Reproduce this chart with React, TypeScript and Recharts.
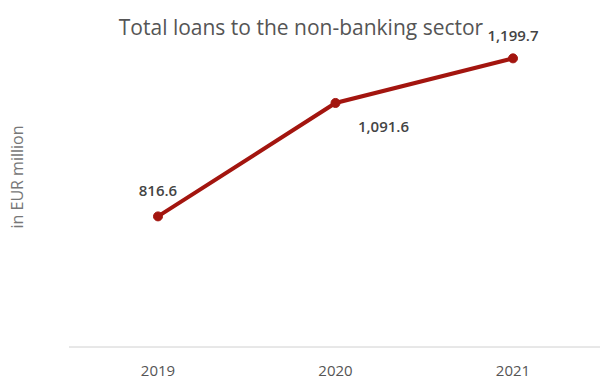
import React from "react";
import { LineChart, Line, XAxis, YAxis, LabelList } from "recharts";

const years = ["2019", "2020", "2021"];
const loans = [816.6, 1091.6, 1199.7];
const valueLabels = ["816.6", "1,091.6", "1,199.7"];

const data = years.map((y, i) => ({ year: y, value: loans[i], label: valueLabels[i] }));

const FONT = "'Open Sans', 'Noto Sans', sans-serif";
const RED = "#A3150F";

const labelOffsets = [
  { dx: 0, dy: -20 },
  { dx: 48, dy: 29 },
  { dx: 0, dy: -17 },
];

const renderLabel = (props: any) => {
  const { x, y, value, index } = props;
  const o = labelOffsets[index] || { dx: 0, dy: -16 };
  return (
    <text
      x={x + o.dx}
      y={y + o.dy}
      textAnchor="middle"
      fontFamily={FONT}
      fontSize={15}
      fontWeight={600}
      fill="#444"
    >
      {value}
    </text>
  );
};

export default function App() {
  return (
    <div style={{ position: "absolute", left: 0, top: 0, width: 600, height: 383, background: "#fff" }}>
      <LineChart
        width={600}
        height={383}
        data={data}
        margin={{ top: 17, right: -2, bottom: 0, left: 69 }}
      >
        <XAxis
          dataKey="year"
          height={36}
          padding={{ left: 89, right: 89 }}
          axisLine={{ stroke: "#d0d0d0", strokeWidth: 1 }}
          tickLine={false}
          tick={{ fontFamily: FONT, fontSize: 15, fill: "#555" }}
          tickMargin={12}
        />
        <YAxis hide domain={[500, 1300]} />
        <Line
          dataKey="value"
          stroke={RED}
          strokeWidth={4}
          dot={{ r: 4.5, fill: RED, stroke: RED, strokeWidth: 1 }}
          isAnimationActive={false}
        >
          <LabelList dataKey="label" content={renderLabel} />
        </Line>
      </LineChart>
      <div
        style={{
          position: "absolute",
          left: 0,
          width: 602,
          top: 13,
          textAlign: "center",
          fontFamily: FONT,
          fontSize: 21,
          fontWeight: 500,
          color: "#555",
          whiteSpace: "nowrap",
        }}
      >
        Total loans to the non-banking sector
      </div>
      <div
        style={{
          position: "absolute",
          left: 17,
          top: 177,
          transform: "translate(-50%, -50%) rotate(-90deg)",
          fontFamily: FONT,
          fontSize: 16,
          color: "#777",
          whiteSpace: "nowrap",
        }}
      >
        in EUR million
      </div>
    </div>
  );
}
